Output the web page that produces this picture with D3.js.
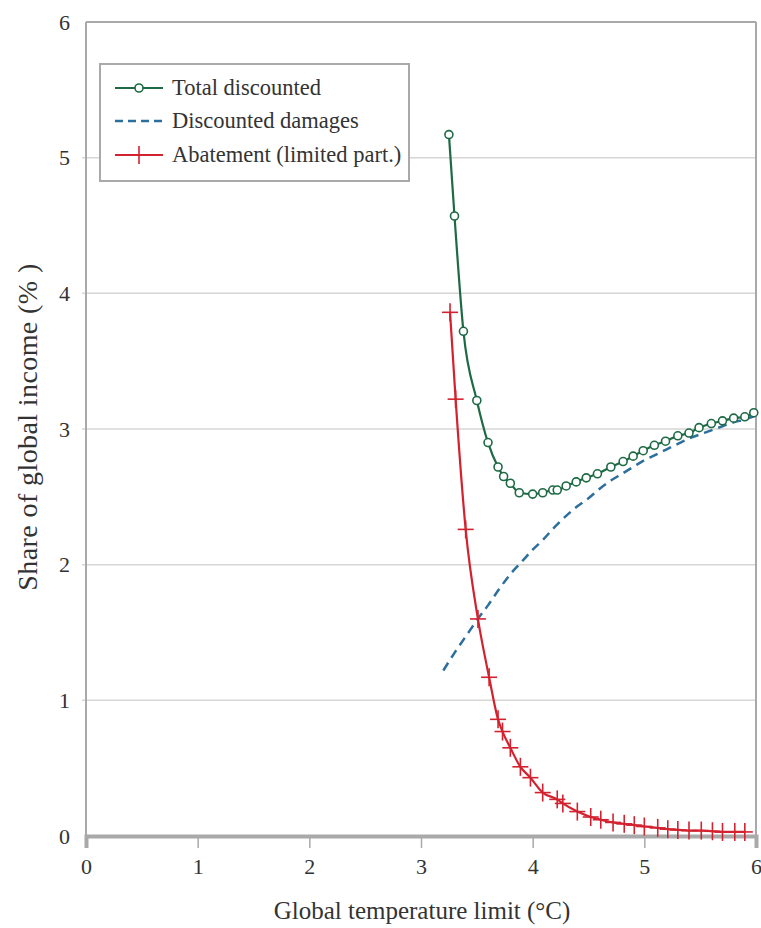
<!DOCTYPE html>
<html>
<head>
<meta charset="utf-8">
<script src="https://cdn.jsdelivr.net/npm/d3@7"></script>
<style>
  html, body { margin: 0; padding: 0; background: #fff; }
  svg text { font-family: "Liberation Serif", "DejaVu Serif", serif; fill: #333; }
</style>
</head>
<body>
<svg id="chart" width="761" height="928"></svg>
<script>
// ---- data ----
const xTicks = [0, 1, 2, 3, 4, 5, 6];
const yTicks = [0, 1, 2, 3, 4, 5, 6];

const totalX = [3.25, 3.3, 3.38, 3.5, 3.6, 3.69, 3.74, 3.8, 3.88, 4.0, 4.09, 4.18, 4.22, 4.3, 4.39, 4.48, 4.58, 4.7, 4.81, 4.9, 4.99, 5.09, 5.19, 5.3, 5.4, 5.49, 5.6, 5.7, 5.8, 5.9, 5.98];
const totalY = [5.17, 4.57, 3.72, 3.21, 2.90, 2.72, 2.65, 2.60, 2.53, 2.52, 2.53, 2.55, 2.55, 2.58, 2.61, 2.64, 2.67, 2.72, 2.76, 2.80, 2.84, 2.88, 2.91, 2.95, 2.97, 3.01, 3.04, 3.06, 3.08, 3.09, 3.12];

const damageX = [3.2, 3.3, 3.4, 3.5, 3.6, 3.7, 3.8, 3.9, 4.0, 4.1, 4.2, 4.3, 4.4, 4.5, 4.6, 4.7, 4.8, 4.9, 5.0, 5.1, 5.2, 5.3, 5.4, 5.5, 5.6, 5.7, 5.8, 5.9, 6.0];
const damageY = [1.22, 1.35, 1.47, 1.59, 1.70, 1.82, 1.93, 2.02, 2.11, 2.19, 2.28, 2.36, 2.43, 2.49, 2.56, 2.62, 2.67, 2.72, 2.77, 2.81, 2.85, 2.89, 2.93, 2.96, 2.99, 3.02, 3.05, 3.07, 3.10];

const abateX = [3.26, 3.31, 3.4, 3.51, 3.61, 3.69, 3.73, 3.8, 3.89, 3.98, 4.09, 4.22, 4.27, 4.4, 4.52, 4.61, 4.72, 4.82, 4.91, 5.0, 5.12, 5.21, 5.3, 5.4, 5.51, 5.61, 5.7, 5.81, 5.9];
const abateY = [3.86, 3.22, 2.26, 1.60, 1.17, 0.86, 0.77, 0.65, 0.51, 0.43, 0.32, 0.27, 0.24, 0.18, 0.14, 0.12, 0.10, 0.09, 0.08, 0.07, 0.06, 0.05, 0.045, 0.04, 0.04, 0.035, 0.03, 0.03, 0.03];

const legendLabels = ["Total discounted", "Discounted damages", "Abatement (limited part.)"];
const xTitle = "Global temperature limit (°C)";
const yTitle = "Share of global income (%  )";

// ---- layout ----
const svg = d3.select("#chart");
const L = 86, R = 756, T = 22, B = 836;
const x = d3.scaleLinear().domain([0, 6]).range([L, R]);
const y = d3.scaleLinear().domain([0, 6]).range([B, T]);

const green = "#1d6a44", red = "#d3222f", blue = "#2c6f9c", grid = "#d6d6d6", axisC = "#a9a9a9";

// gridlines
svg.append("g").selectAll("line").data(yTicks.filter(d => d > 0 && d < 6)).join("line")
  .attr("x1", L - 4).attr("x2", R).attr("y1", d => y(d)).attr("y2", d => y(d))
  .attr("stroke", grid).attr("stroke-width", 1.5);

// frame
svg.append("line").attr("x1", L).attr("x2", R).attr("y1", T).attr("y2", T).attr("stroke", axisC).attr("stroke-width", 2);
svg.append("line").attr("x1", R).attr("x2", R).attr("y1", T).attr("y2", B).attr("stroke", axisC).attr("stroke-width", 2);
svg.append("line").attr("x1", L).attr("x2", L).attr("y1", T).attr("y2", B).attr("stroke", axisC).attr("stroke-width", 2);

// x axis
const xAxis = d3.axisBottom(x).tickValues(xTicks).tickSize(12).tickPadding(10).tickFormat(d3.format("d"));
const gx = svg.append("g").attr("transform", `translate(0,${B})`).call(xAxis);
gx.select(".domain").attr("stroke", axisC).attr("stroke-width", 4);
gx.selectAll(".tick line").attr("stroke", axisC).attr("stroke-width", 1.5);
gx.selectAll(".tick text").style("font-family", "Liberation Serif, serif").style("font-size", "22px").attr("fill", "#444");

// y axis
const yAxis = d3.axisLeft(y).tickValues(yTicks).tickSize(0).tickPadding(16).tickFormat(d3.format("d"));
const gy = svg.append("g").attr("transform", `translate(${L},0)`).call(yAxis);
gy.select(".domain").remove();
gy.selectAll(".tick text").style("font-family", "Liberation Serif, serif").style("font-size", "22px").attr("fill", "#444");

// titles
svg.append("text").attr("x", 422).attr("y", 919).attr("text-anchor", "middle")
  .style("font-size", "25px").text(xTitle);
svg.append("text").attr("transform", `translate(37,427) rotate(-90)`).attr("text-anchor", "middle")
  .style("font-size", "28px").style("letter-spacing", "0.4px").text(yTitle);

const line = d3.line().curve(d3.curveMonotoneX);

// damages (dashed)
svg.append("path").attr("d", line(damageX.map((d, i) => [x(d), y(damageY[i])])))
  .attr("fill", "none").attr("stroke", blue).attr("stroke-width", 2.5).attr("stroke-dasharray", "9,6");

// abatement
svg.append("path").attr("d", line(abateX.map((d, i) => [x(d), y(abateY[i])])))
  .attr("fill", "none").attr("stroke", red).attr("stroke-width", 2.2);
const plus = svg.append("g").selectAll("g").data(abateX.map((d, i) => [d, abateY[i]])).join("g")
  .attr("transform", d => `translate(${x(d[0])},${y(d[1])})`);
plus.append("line").attr("x1", -8).attr("x2", 8).attr("stroke", red).attr("stroke-width", 1.6);
plus.append("line").attr("y1", -9).attr("y2", 9).attr("stroke", red).attr("stroke-width", 1.6);

// total
svg.append("path").attr("d", line(totalX.map((d, i) => [x(d), y(totalY[i])])))
  .attr("fill", "none").attr("stroke", green).attr("stroke-width", 2.2);
svg.append("g").selectAll("circle").data(totalX.map((d, i) => [d, totalY[i]])).join("circle")
  .attr("cx", d => x(d[0])).attr("cy", d => y(d[1])).attr("r", 4)
  .attr("fill", "#fff").attr("stroke", green).attr("stroke-width", 1.6);

// legend
const lg = svg.append("g");
lg.append("rect").attr("x", 100).attr("y", 64).attr("width", 309).attr("height", 117)
  .attr("fill", "#fff").attr("stroke", axisC).attr("stroke-width", 2);
const rows = [88, 121, 155];
legendLabels.forEach((lab, i) => {
  const ry = rows[i];
  const col = [green, blue, red][i];
  const ln = lg.append("line").attr("x1", 115).attr("x2", 163).attr("y1", ry).attr("y2", ry)
    .attr("stroke", col).attr("stroke-width", i === 1 ? 2.5 : 2.2);
  if (i === 1) ln.attr("stroke-dasharray", "8,5");
  if (i === 0) lg.append("circle").attr("cx", 139).attr("cy", ry).attr("r", 4)
    .attr("fill", "#fff").attr("stroke", green).attr("stroke-width", 1.6);
  if (i === 2) lg.append("line").attr("x1", 139).attr("x2", 139).attr("y1", ry - 9).attr("y2", ry + 9)
    .attr("stroke", red).attr("stroke-width", 1.6);
  lg.append("text").attr("x", 172).attr("y", ry + 7).style("font-size", "22.5px").attr("fill", "#333").text(lab);
});
</script>
</body>
</html>
